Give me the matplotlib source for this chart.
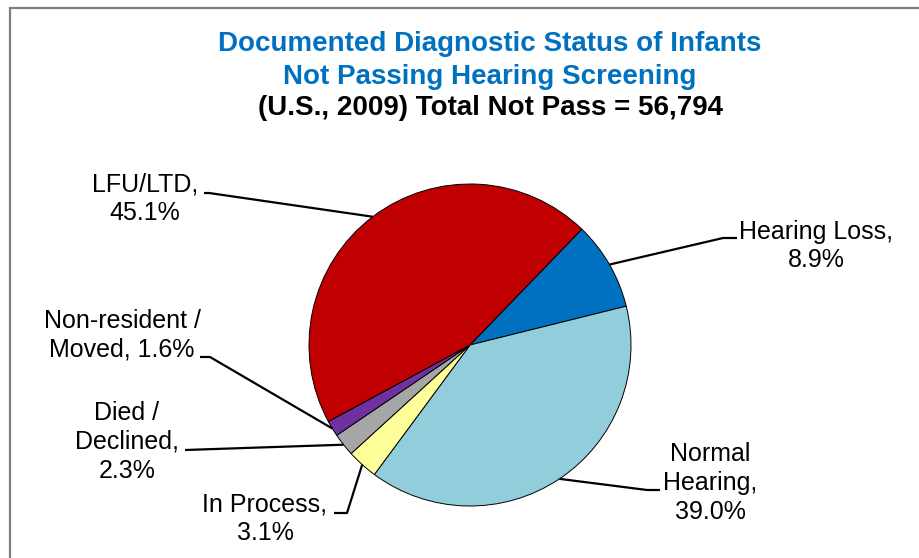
import numpy as np
import matplotlib.pyplot as plt
from matplotlib.patches import Rectangle

# data
categories = ['Hearing Loss', 'Normal Hearing', 'In Process', 'Died / Declined',
              'Non-resident / Moved', 'LFU/LTD']
percent = [8.9, 39.0, 3.1, 2.3, 1.6, 45.1]
label_texts = ['Hearing Loss,\n8.9%', 'Normal\nHearing,\n39.0%', 'In Process,\n3.1%',
               'Died /\nDeclined,\n2.3%', 'Non-resident /\nMoved, 1.6%', 'LFU/LTD,\n45.1%']
colors = ['#0070C0', '#92CDDC', '#FFFF99', '#A6A6A6', '#7030A0', '#C00000']

W, H = 919, 558
fig = plt.figure(figsize=(W / 100, H / 100), dpi=100)
ax = fig.add_axes([0, 0, 1, 1])
ax.set_xlim(0, W)
ax.set_ylim(0, H)
ax.set_aspect('equal')
ax.axis('off')

plt.rcParams['font.family'] = ['Liberation Sans', 'DejaVu Sans']

# outer frame (runs off right and bottom edges)
ax.add_patch(Rectangle((10, -20), W + 20, H - 8 + 20, fill=False, ec='#808080', lw=1.6))

cx, cy, r = 470, H - 345, 161
wedges, _ = ax.pie(percent, colors=colors, startangle=46, counterclock=False,
                   center=(cx, cy), radius=r, frame=True,
                   wedgeprops=dict(edgecolor='black', linewidth=0.7))
ax.set_xlim(0, W)
ax.set_ylim(0, H)
ax.axis('off')

# label layout: text center, elbow point, end of horizontal tick (pixel coords from top)
layout = [
    dict(text=(816, 246), elbow=(723, 238), end=(737, 238)),
    dict(text=(710, 483), elbow=(647, 490), end=(660, 490)),
    dict(text=(265, 519), elbow=(347, 513), end=(334, 513)),
    dict(text=(127, 442), elbow=(185, 450), end=(185, 450)),
    dict(text=(122, 335), elbow=(210, 357), end=(200, 357)),
    dict(text=(145, 199), elbow=(209, 193), end=(204, 193)),
]

for w, lab, lay in zip(wedges, label_texts, layout):
    mid = np.deg2rad((w.theta1 + w.theta2) / 2)
    ax_, ay_ = cx + r * np.cos(mid), cy + r * np.sin(mid)
    ex, ey = lay['elbow']
    tx, ty = lay['end']
    ax.plot([ax_, ex, tx], [ay_, H - ey, H - ty], color='black', lw=1.6,
            solid_capstyle='butt')
    ax.text(lay['text'][0], H - lay['text'][1], lab, ha='center', va='center',
            fontsize=18, linespacing=1.26, color='black')

ax.text(490, H - 44, 'Documented Diagnostic Status of Infants', ha='center', va='center',
        fontsize=20, fontweight='bold', color='#0070C0')
ax.text(490, H - 77, 'Not Passing Hearing Screening', ha='center', va='center',
        fontsize=20, fontweight='bold', color='#0070C0')
ax.text(490, H - 108, '(U.S., 2009) Total Not Pass = 56,794', ha='center', va='center',
        fontsize=20, fontweight='bold', color='black')

fig.savefig('out.png', dpi=100)
